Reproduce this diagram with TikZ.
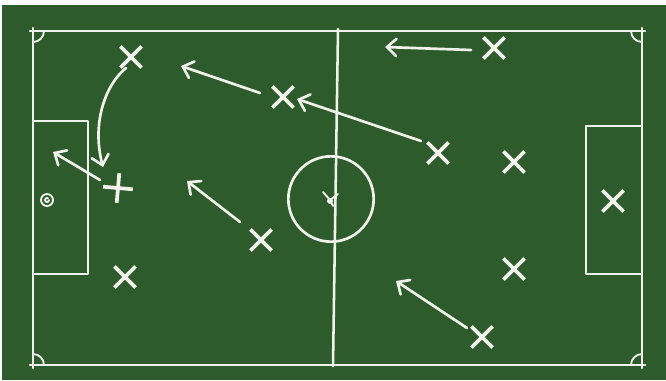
\documentclass[tikz,border=0pt]{standalone}
\usetikzlibrary{arrows.meta,shapes.misc}
\definecolor{board}{HTML}{2E5B2C}
\definecolor{chalk}{HTML}{F2F2EC}
\begin{document}
\begin{tikzpicture}[x=0.75pt,y=-0.75pt,
  fieldline/.style={draw=chalk,line width=1.9pt,line cap=round,line join=round},
  boxline/.style={draw=chalk,line width=1.4pt,line cap=round,line join=round},
  arr/.style={draw=chalk,line width=2pt,line cap=round,
    -{Straight Barb[length=7pt,width=13pt,line cap=round]}},
  xmk/.style={cross out,draw=chalk,line width=2.8pt,minimum size=13pt,inner sep=0pt},
  pmk/.style={xmk,rotate=40}]
\useasboundingbox (0,0) rectangle (666,380);
\fill[white] (0,0) rectangle (666,380);
\fill[board] (2,5) rectangle (666,380);
% field
\draw[fieldline] (30,31) -- (645,31);
\draw[fieldline] (30,365) -- (645,365);
\draw[fieldline] (33,28) -- (33,368);
\draw[fieldline] (642,28) -- (642,368);
\draw[fieldline] (338,29) -- (333,366);
% corner arcs
\draw[boxline] (44,31) arc[start angle=0,end angle=90,radius=11];
\draw[boxline] (642,42) arc[start angle=90,end angle=180,radius=11];
\draw[boxline] (631,365) arc[start angle=180,end angle=270,radius=11];
\draw[boxline] (33,354) arc[start angle=270,end angle=360,radius=11];
% penalty boxes
\draw[boxline] (33,121) -- (88,121) -- (88,274) -- (33,274);
\draw[boxline] (642,126) -- (586,126) -- (586,274) -- (642,274);
% centre circle and spot
\node[circle,draw=chalk,line width=2pt,minimum size=64pt,inner sep=0pt] (cc) at (331,199) {};
\fill[chalk] (330,201) circle (3);
\draw[boxline] (323,192) -- (330,200) -- (338,194);
\draw[boxline] (330,200) -- (333,206);
% goalkeeper left
\node[circle,draw=chalk,line width=1.4pt,minimum size=9pt,inner sep=0pt] (gk) at (47,200) {};
\draw[boxline] (gk.center) ++(2,0) arc[start angle=0,end angle=300,radius=2];
% players
\node[xmk] (p1) at (131,57) {};
\node[pmk] (p2) at (118,188) {};
\node[xmk] (p3) at (125,277) {};
\node[xmk] (p4) at (261,240) {};
\node[xmk] (p5) at (283,97) {};
\node[xmk] (p6) at (438,153) {};
\node[xmk] (p7) at (494,48) {};
\node[xmk] (p8) at (514,162) {};
\node[xmk] (p9) at (514,269) {};
\node[xmk] (p10) at (613,201) {};
\node[xmk] (p11) at (482,337) {};
% arrow end points
\coordinate (a1s) at (126,68);
\coordinate (a1e) at (103,167);
\coordinate (a2s) at (100,180);
\coordinate (a2e) at (53,152);
\coordinate (a3s) at (240,222);
\coordinate (a3e) at (187,181);
\coordinate (a4s) at (260,93);
\coordinate (a4e) at (181,66);
\coordinate (a5s) at (421,141);
\coordinate (a5e) at (297,99);
\coordinate (a6s) at (471,50);
\coordinate (a6e) at (385,47);
\coordinate (a7s) at (467,328);
\coordinate (a7e) at (396,281);
% arrows
\draw[arr] (a1s) .. controls (104,86) and (92,125) .. (a1e);
\draw[arr] (a2s) -- (a2e);
\draw[arr] (a3s) -- (a3e);
\draw[arr] (a4s) -- (a4e);
\draw[arr] (a5s) -- (a5e);
\draw[arr] (a6s) -- (a6e);
\draw[arr] (a7s) -- (a7e);
\end{tikzpicture}
\end{document}
